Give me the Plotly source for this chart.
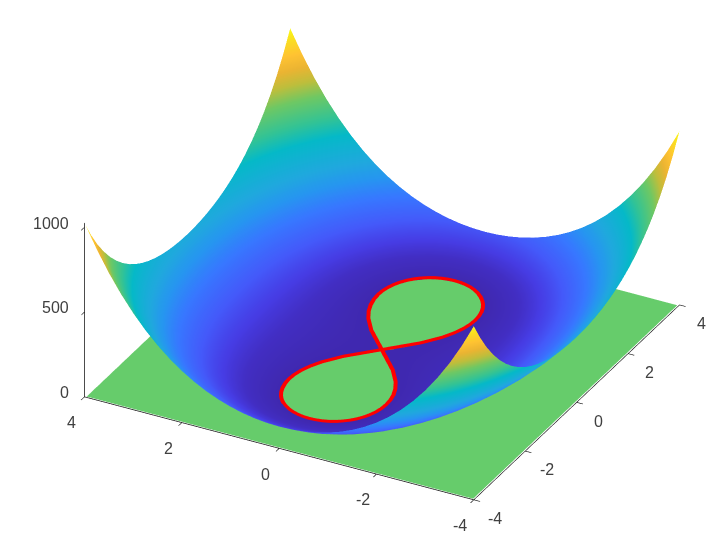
import numpy as np
import plotly.graph_objects as go

# grid nodes, positive half (the picture is mirror-symmetric about both axes)
x_half = [0, .25, .5, .75, 1, 1.25, 1.5, 1.75, 2, 2.25, 2.5, 2.75, 3, 3.25, 3.5, 3.75, 4]
y_half = [0, .25, .5, .75, 1, 1.25, 1.5, 1.75, 2, 2.25, 2.5, 2.75, 3, 3.25, 3.5, 3.75, 4]

# surface height for each y_half row / x_half column
z_rows = [
 [0,-.50,-1.94,-4.18,-7,-10.06,-12.94,-15.12,-16,-14.87,-10.94,-3.31,9,27.07,52.06,85.25,128],
 [.50,.02,-1.40,-3.61,-6.37,-9.36,-12.15,-14.23,-15,-13.73,-9.65,-1.86,10.63,28.89,54.10,87.52,130.50],
 [2.06,1.60,.25,-1.84,-4.44,-7.21,-9.75,-11.53,-11.94,-10.28,-5.75,2.54,15.56,34.41,60.25,94.35,138.06],
 [4.82,4.39,3.16,1.27,-1.06,-3.48,-5.59,-6.86,-6.68,-4.36,.91,10.02,23.94,43.77,70.66,105.89,150.82],
 [9,8.63,7.56,5.94,4,2.07,.56,0,1,4.25,10.56,20.82,36,57.19,85.56,122.38,169],
 [14.94,14.64,13.79,12.52,11.07,9.77,9.04,9.39,11.44,15.89,23.54,35.27,52.07,75.02,105.29,144.14,192.94],
 [23.06,22.85,22.25,21.41,20.56,20.04,20.25,21.72,25.06,30.97,40.25,53.79,72.56,97.66,130.25,171.60,223.06],
 [33.88,33.77,33.47,33.14,33,33.39,34.72,37.52,42.38,50.02,61.22,76.89,98,125.64,160.97,205.27,259.88],
 [48,48,48.06,48.32,49,50.44,53.06,57.38,64,73.63,87.06,105.19,129,159.57,198.06,245.75,304],
 [66.13,66.27,66.72,67.64,69.25,71.89,75.97,82.02,90.63,102.52,118.47,139.39,166.25,200.14,242.22,293.77,356.13],
 [89.06,89.35,90.25,91.91,94.56,98.54,104.25,112.22,123.06,137.47,156.25,180.29,210.56,248.16,294.25,350.10,417.06],
 [117.69,118.14,119.54,122.02,125.82,131.27,138.79,148.89,162.19,179.39,201.29,228.77,262.82,304.52,355.04,415.64,487.69],
 [153,153.63,155.56,158.94,164,171.07,180.56,193,209,229.25,254.56,285.82,324,370.19,425.56,491.38,569],
 [196.07,196.89,199.41,203.77,210.19,219.02,230.66,245.64,264.57,288.14,317.16,352.52,395.19,446.27,506.91,578.39,662.07],
 [248.06,249.10,252.25,257.66,265.56,276.29,290.25,307.97,330.06,357.22,390.25,430.04,477.56,533.91,600.25,677.85,768.06],
 [310.25,311.52,315.35,321.89,331.38,344.14,360.60,381.27,406.75,437.77,475.10,519.64,572.38,634.39,706.85,791.02,888.25],
 [384,385.50,390.06,397.82,409,423.94,443.06,466.88,496,531.13,573.06,622.69,681,749.07,828.06,919.25,1024],
]

# red outline, one quarter, from the crossing out to the tip
curve_x = [0,.546,.903,1.142,1.355,1.551,1.732,1.900,2.055,2.197,2.326,2.441,2.542,2.629,2.700,2.756,2.796,2.820,2.828]
curve_y = [0,.509,.758,.876,.949,.988,1.0,.989,.958,.910,.847,.770,.681,.583,.476,.363,.245,.123,0]
curve_height = 5

plane_x = [-3.97, 3.97]
plane_y = [-3.97, 3.97]
plane_z = [[0, 0], [0, 0]]

tick_xy = [-4, -2, 0, 2, 4]
tick_z = [0, 500, 1000]

# colours, by relative height
height_colours = [
 [0, "rgb(62,38,168)"], [.05, "rgb(66,46,195)"], [.09, "rgb(70,60,228)"], [.15, "rgb(68,90,250)"],
 [.23, "rgb(55,120,255)"], [.30, "rgb(38,150,240)"], [.37, "rgb(32,168,222)"],
 [.49, "rgb(5,185,200)"], [.566, "rgb(50,195,150)"], [.67, "rgb(110,200,100)"], [.745, "rgb(190,190,60)"],
 [.81, "rgb(235,180,50)"], [.88, "rgb(255,195,50)"], [.94, "rgb(250,220,35)"], [1, "rgb(249,251,21)"],
]

xh = np.array(x_half); yh = np.array(y_half); zq = np.array(z_rows)
xs = np.concatenate([-xh[:0:-1], xh])
ys = np.concatenate([-yh[:0:-1], yh])
zt = np.hstack([zq[:, :0:-1], zq])
zs = np.vstack([zt[:0:-1], zt])

cx = np.array(curve_x); cy = np.array(curve_y)
line_x = np.concatenate([cx, cx[::-1], -cx, -cx[::-1]])
line_y = np.concatenate([cy, -cy[::-1], cy, -cy[::-1]])
line_z = np.full(len(line_x), curve_height)

flat = dict(ambient=1, diffuse=0, specular=0, roughness=1, fresnel=0)
font = dict(family="Liberation Sans, Arial", size=16, color="#404040")


def axis(vals, rng, ticklen=7):
    return dict(range=rng, tickvals=vals, title=dict(text=""),
                showgrid=False, zeroline=False, showbackground=False, showspikes=False,
                showline=True, linecolor="#111111", linewidth=1.5, ticks="outside",
                ticklen=ticklen, tickcolor="#111111", tickwidth=1.5, showticklabels=False)


def label(x, y, z, xshift, yshift, text, xanchor="center"):
    return dict(x=x, y=y, z=z, text=text, showarrow=False, xanchor=xanchor, yanchor="middle",
                xshift=xshift, yshift=yshift, font=font)


labels = [label(-4, 4, v, -14, 4, str(v), "right") for v in tick_z]
labels += [label(-4, v, 0, -13.5, -26, str(v)) for v in tick_xy]
labels += [label(v, -4, 0, 21.5, -19, str(v)) for v in tick_xy]

fig = go.Figure()
fig.add_trace(go.Surface(x=xs, y=ys, z=zs, colorscale=height_colours, cmin=-16, cmax=1024,
                         showscale=False, lighting=flat, hoverinfo="skip",
                         contours=dict(x=dict(highlight=False), y=dict(highlight=False), z=dict(highlight=False))))
fig.add_trace(go.Surface(x=plane_x, y=plane_y, z=plane_z, surfacecolor=plane_z,
                         colorscale=[[0, "rgb(102,204,107)"], [1, "rgb(102,204,107)"]],
                         showscale=False, lighting=flat, hoverinfo="skip"))
fig.add_trace(go.Scatter3d(x=line_x, y=line_y, z=line_z, mode="lines",
                           line=dict(color="rgb(255,0,0)", width=8), hoverinfo="skip"))
fig.update_layout(
    width=727, height=544, margin=dict(l=0, r=0, t=0, b=0), paper_bgcolor="white", showlegend=False,
    scene=dict(
        domain=dict(x=[.029, 1], y=[.0594, 1]),
        xaxis=axis(tick_xy, [-4, 4]), yaxis=axis(tick_xy, [-4, 4]), zaxis=axis(tick_z, [0, 1024], 10),
        aspectmode="manual", aspectratio=dict(x=1.72, y=1.72, z=.784),
        camera=dict(eye=dict(x=-1.59, y=-.84, z=1.04), up=dict(x=0, y=0, z=1),
                    center=dict(x=0, y=0, z=0), projection=dict(type="orthographic")),
        annotations=labels,
    ),
)
fig.write_html("out.html")
